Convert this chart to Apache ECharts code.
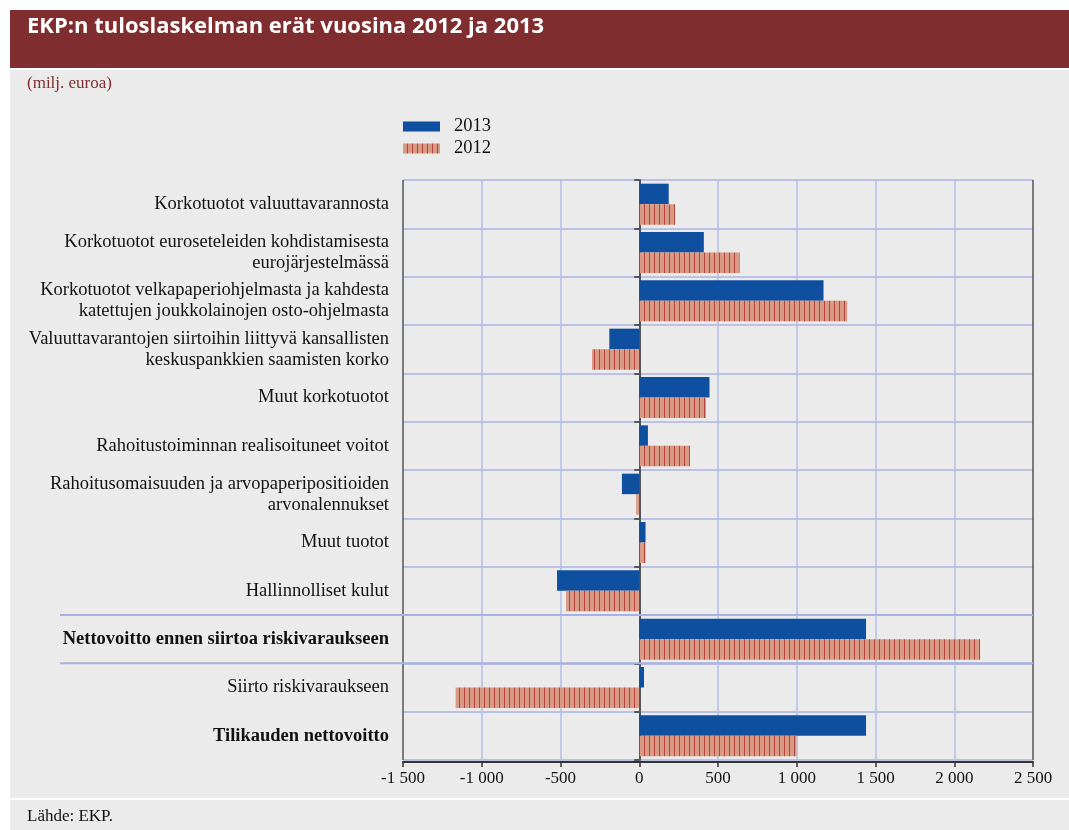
<!DOCTYPE html>
<html>
<head>
<meta charset="utf-8">
<script src="https://cdn.jsdelivr.net/npm/echarts@6/dist/echarts.min.js"></script>
<style>
  html, body { margin: 0; padding: 0; background: #fff; }
  #main { width: 1069px; height: 830px; }
</style>
</head>
<body>
<div id="main"></div>
<script>
// rivit ylhäältä alas
var categories = [
  'Korkotuotot valuuttavarannosta',
  'Korkotuotot euroseteleiden kohdistamisesta\neurojärjestelmässä',
  'Korkotuotot velkapaperiohjelmasta ja kahdesta\nkatettujen joukkolainojen osto-ohjelmasta',
  'Valuuttavarantojen siirtoihin liittyvä kansallisten\nkeskuspankkien saamisten korko',
  'Muut korkotuotot',
  'Rahoitustoiminnan realisoituneet voitot',
  'Rahoitusomaisuuden ja arvopaperipositioiden\narvonalennukset',
  'Muut tuotot',
  'Hallinnolliset kulut',
  'Nettovoitto ennen siirtoa riskivaraukseen',
  'Siirto riskivaraukseen',
  'Tilikauden nettovoitto'
];
var boldRows = ['Nettovoitto ennen siirtoa riskivaraukseen', 'Tilikauden nettovoitto'];

// milj. euroa
var values2013 = [187, 410, 1170, -190, 446, 55, -110, 40, -522, 1440, 30, 1440];
var values2012 = [228, 637, 1320, -300, 424, 322, -20, 40, -465, 2164, -1166, 998];

var xMin = -1500;
var xMax = 2500;
var xStep = 500;

function stripePattern() {
  var c = document.createElement('canvas');
  c.width = 5;
  c.height = 20;
  var g = c.getContext('2d');
  g.fillStyle = '#d99b86';
  g.fillRect(0, 0, 5, 20);
  g.fillStyle = '#b3453a';
  g.fillRect(4, 0, 1, 20);
  return c;
}

function fmtThousands(v) {
  var s = String(Math.abs(v));
  if (s.length > 3) s = s.slice(0, s.length - 3) + ' ' + s.slice(s.length - 3);
  return (v < 0 ? '-' : '') + s;
}

var serif = '"Liberation Serif", "Times New Roman", serif';

var myChart = echarts.init(document.getElementById('main'));
myChart.setOption({
  animation: false,
  backgroundColor: '#ffffff',
  graphic: [
    { type: 'rect', z: -10, silent: true, shape: { x: 10, y: 10, width: 1059, height: 58 }, style: { fill: '#7f2d2f' } },
    { type: 'rect', z: -10, silent: true, shape: { x: 10, y: 70, width: 1059, height: 728 }, style: { fill: '#ebebeb' } },
    { type: 'rect', z: -10, silent: true, shape: { x: 10, y: 800, width: 1059, height: 30 }, style: { fill: '#ebebeb' } },
    { type: 'text', z: 5, silent: true, style: { x: 27, y: 27, text: 'EKP:n tuloslaskelman erät vuosina 2012 ja 2013', fill: '#ffffff', font: 'bold 22px "Open Sans", sans-serif', verticalAlign: 'middle' } },
    { type: 'text', z: 5, silent: true, style: { x: 27, y: 84, text: '(milj. euroa)', fill: '#7f2d2f', font: '17px ' + serif, verticalAlign: 'middle' } },
    { type: 'text', z: 5, silent: true, style: { x: 27, y: 817, text: 'Lähde: EKP.', fill: '#111111', font: '17px ' + serif, verticalAlign: 'middle' } }
  ],
  legend: {
    orient: 'vertical',
    left: 398,
    top: 112,
    icon: 'rect',
    itemWidth: 37,
    itemHeight: 10,
    itemGap: 3,
    textStyle: { fontFamily: serif, fontSize: 18.5, color: '#111', padding: [0, 0, 0, 9] },
    data: ['2013', '2012']
  },
  grid: { left: 403, right: 36, top: 180, height: 580, containLabel: false },
  xAxis: {
    type: 'value',
    min: xMin,
    max: xMax,
    interval: xStep,
    offset: 2,
    axisLine: { show: true, lineStyle: { color: '#333', width: 2 } },
    axisTick: { show: true, length: 5, lineStyle: { color: '#333', width: 1.5 } },
    axisLabel: { fontFamily: serif, fontSize: 17, color: '#111', margin: 8, formatter: fmtThousands },
    splitLine: {
      show: true,
      lineStyle: { color: ['#555', '#b4bce6', '#b4bce6', '#b4bce6', '#b4bce6', '#b4bce6', '#b4bce6', '#b4bce6', '#555'], width: 1.5 }
    }
  },
  yAxis: {
    type: 'category',
    inverse: true,
    data: categories,
    axisLine: { show: true, lineStyle: { color: '#555', width: 2 } },
    axisTick: { show: true, length: 5, lineStyle: { color: '#333', width: 1.5 } },
    axisLabel: {
      fontFamily: serif,
      fontSize: 18.5,
      color: '#111',
      margin: 14,
      lineHeight: 21,
      formatter: function(v) {
        return boldRows.indexOf(v) >= 0 ? '{b|' + v + '}' : v;
      },
      rich: { b: { fontFamily: serif, fontSize: 18.5, fontWeight: 'bold', color: '#111' } }
    },
    splitLine: { show: true, lineStyle: { color: '#aab3e3', width: 1.5 } }
  },
  series: [
    {
      name: '2013',
      type: 'bar',
      data: values2013,
      barWidth: 20.5,
      barGap: '0%',
      itemStyle: { color: '#0f4fa0' }
    },
    {
      name: '2012',
      type: 'bar',
      data: values2012,
      barWidth: 20.5,
      barGap: '0%',
      itemStyle: { color: { image: stripePattern(), repeat: 'repeat' } }
    }
  ]
});

// erottelevat viivat lihavoidun rivin ympärillä, jatkuvat tekstien alle
var c0 = myChart.convertToPixel({ yAxisIndex: 0 }, categories[0]);
var c1 = myChart.convertToPixel({ yAxisIndex: 0 }, categories[1]);
var band = c1 - c0;
var rowNet = myChart.convertToPixel({ yAxisIndex: 0 }, categories[9]);
var plotRight = myChart.convertToPixel({ xAxisIndex: 0 }, xMax);
var sepYs = [rowNet - band / 2, rowNet + band / 2];
myChart.setOption({
  graphic: sepYs.map(function(y, i) {
    return {
      id: 'sep' + i,
      type: 'line',
      silent: true,
      z: 1,
      shape: { x1: 60, y1: y, x2: plotRight, y2: y },
      style: { stroke: '#a7b1e2', lineWidth: 2 }
    };
  })
});
</script>
</body>
</html>
